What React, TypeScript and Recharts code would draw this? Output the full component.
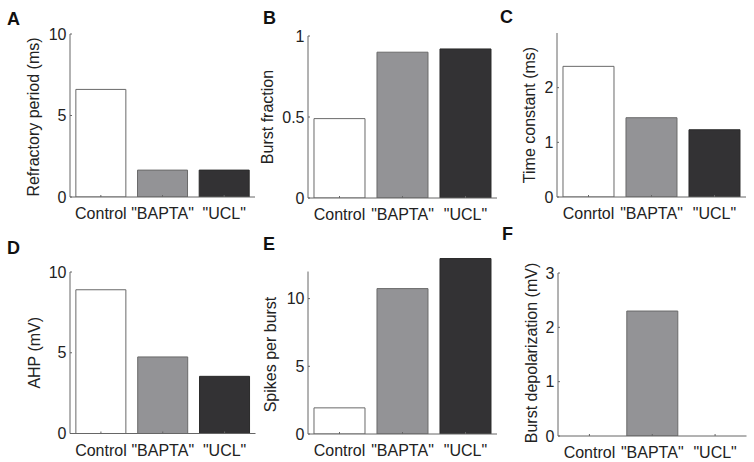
import React from "react";
import { BarChart, Bar, XAxis, YAxis, Cell, Label, ReferenceLine } from "recharts";

const CATEGORIES = ["Control", '"BAPTA"', '"UCL"'];
const CATEGORIES_C = ["Conrtol", '"BAPTA"', '"UCL"'];

const REFRACTORY_MS = [6.6, 1.65, 1.65];
const BURST_FRACTION = [0.49, 0.9, 0.92];
const TIME_CONSTANT_MS = [2.39, 1.45, 1.23];
const AHP_MV = [8.9, 4.74, 3.54];
const SPIKES_PER_BURST = [1.93, 10.74, 12.96];
const BURST_DEPOL_MV = [0, 2.3, 0];

const TICKS_A = [0, 5, 10];
const TICKS_B = [0, 0.5, 1];
const TICKS_C = [0, 1, 2];
const TICKS_D = [0, 5, 10];
const TICKS_E = [0, 5, 10];
const TICKS_F = [0, 1, 2, 3];

const FONT = '"Liberation Sans", Arial, sans-serif';
const TEXT = "#222";
const AXIS = "#666";
const FILLS = ["#ffffff", "#939396", "#333234"];
const STROKES = ["#6a6a6a", "#6a6a6a", "#2a2a2a"];

const Y_AXIS_W = 60;
const TOP_PAD = 10;
const X_AXIS_H = 30;

interface PanelProps {
  categories: string[];
  values: number[];
  title: string;
  domain: [number, number];
  ticks: number[];
  x: number;
  y: number;
  w: number;
  h: number;
  titleGap: number;
  titleShift?: number;
  axisTop?: number;
}

const Panel: React.FC<PanelProps> = ({
  categories,
  values,
  title,
  domain,
  ticks,
  x,
  y,
  w,
  h,
  titleGap,
  titleShift = 0,
  axisTop,
}) => {
  const data = categories.map((name, i) => ({ name, value: values[i] }));
  const tickStyle = { fill: TEXT, fontSize: 16, fontFamily: FONT };

  return (
    <div
      style={{
        position: "absolute",
        left: x - Y_AXIS_W,
        top: y - TOP_PAD,
      }}
    >
      <BarChart
        width={Y_AXIS_W + w + 6}
        height={TOP_PAD + h + X_AXIS_H}
        data={data}
        margin={{ top: TOP_PAD, right: 6, bottom: 0, left: 0 }}
        barCategoryGap="9.5%"
      >
        <XAxis
          dataKey="name"
          height={X_AXIS_H}
          axisLine={{ stroke: AXIS }}
          tickLine={{ stroke: AXIS }}
          tickSize={-2}
          tickMargin={13}
          tick={tickStyle}
          interval={0}
        />
        <YAxis
          type="number"
          width={Y_AXIS_W}
          domain={domain}
          ticks={ticks}
          allowDataOverflow
          axisLine={axisTop === undefined ? { stroke: AXIS } : false}
          tickLine={{ stroke: AXIS }}
          tickSize={-2}
          tickMargin={5.5}
          tick={tickStyle}
        >
          <Label
            content={(p: any) => {
              const vb = p.viewBox;
              const cx = vb.x + vb.width - titleGap;
              const cy = vb.y + vb.height / 2 + titleShift;
              return (
                <text
                  x={cx}
                  y={cy}
                  transform={`rotate(-90 ${cx} ${cy})`}
                  textAnchor="middle"
                  dominantBaseline="central"
                  fill={TEXT}
                  fontSize={16}
                  fontFamily={FONT}
                >
                  {title}
                </text>
              );
            }}
          />
        </YAxis>
        {axisTop !== undefined && (
          <ReferenceLine
            segment={[
              { x: categories[0], y: 0 },
              { x: categories[0], y: axisTop },
            ]}
            position="start"
            stroke={AXIS}
            ifOverflow="visible"
          />
        )}
        <Bar dataKey="value" isAnimationActive={false}>
          {data.map((d, i) => (
            <Cell key={d.name} fill={FILLS[i]} stroke={STROKES[i]} strokeWidth={1} />
          ))}
        </Bar>
      </BarChart>
    </div>
  );
};

const LETTERS = [
  { t: "A", x: 7, y: 25 },
  { t: "B", x: 263, y: 24 },
  { t: "C", x: 500, y: 23 },
  { t: "D", x: 7, y: 254 },
  { t: "E", x: 263, y: 250 },
  { t: "F", x: 502, y: 240 },
];

export default function App() {
  return (
    <div
      style={{
        position: "absolute",
        left: 0,
        top: 0,
        width: 754,
        height: 462,
        background: "#fff",
        overflow: "hidden",
      }}
    >
      <Panel
        categories={CATEGORIES}
        values={REFRACTORY_MS}
        title="Refractory period (ms)"
        domain={[0, 10]}
        ticks={TICKS_A}
        x={70}
        y={34}
        w={185}
        h={163}
        titleGap={36.5}
        titleShift={1.5}
      />
      <Panel
        categories={CATEGORIES}
        values={BURST_FRACTION}
        title="Burst fraction"
        domain={[0, 1]}
        ticks={TICKS_B}
        x={308}
        y={36}
        w={189}
        h={162}
        titleGap={40.5}
      />
      <Panel
        categories={CATEGORIES_C}
        values={TIME_CONSTANT_MS}
        title="Time constant (ms)"
        domain={[0, 3]}
        ticks={TICKS_C}
        x={557}
        y={33}
        w={189}
        h={164}
        titleGap={28}
      />
      <Panel
        categories={CATEGORIES}
        values={AHP_MV}
        title="AHP (mV)"
        domain={[0, 10]}
        ticks={TICKS_D}
        x={69.5}
        y={272}
        w={185.5}
        h={161.5}
        titleGap={36}
      />
      <Panel
        categories={CATEGORIES}
        values={SPIKES_PER_BURST}
        title="Spikes per burst"
        domain={[0, 13]}
        ticks={TICKS_E}
        x={308}
        y={258}
        w={189}
        h={176}
        titleGap={37.5}
        titleShift={8.5}
        axisTop={12}
      />
      <Panel
        categories={CATEGORIES}
        values={BURST_DEPOL_MV}
        title="Burst depolarization (mV)"
        domain={[0, 3]}
        ticks={TICKS_F}
        x={558}
        y={272.5}
        w={188.5}
        h={163}
        titleGap={26.5}
        titleShift={-1.5}
      />
      <svg
        width={754}
        height={462}
        style={{ position: "absolute", left: 0, top: 0, pointerEvents: "none" }}
      >
        {LETTERS.map((l) => (
          <text
            key={l.t}
            x={l.x}
            y={l.y}
            fontSize={18}
            fontWeight={700}
            fontFamily={FONT}
            fill="#111"
          >
            {l.t}
          </text>
        ))}
      </svg>
    </div>
  );
}
